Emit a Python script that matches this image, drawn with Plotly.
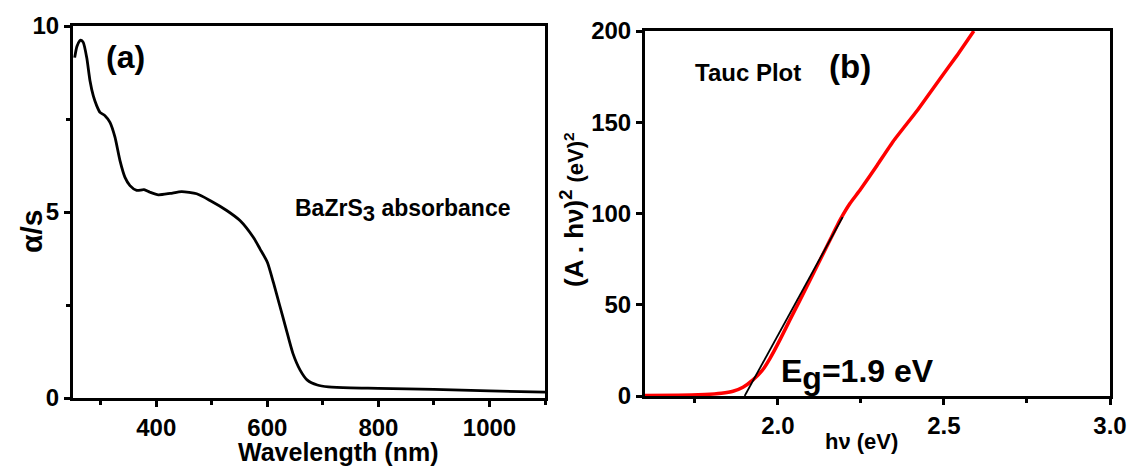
import plotly.graph_objects as go

# Panel (a): absorption spectrum of BaZrS3
wavelength_nm = [253, 257, 262, 264, 268.5, 274.7, 280.6, 286.6, 292.6, 298.6, 307.6, 316.6,
                 325.6, 334.6, 343.6, 352.6, 364.7, 377.9, 388.7, 403.7, 425, 445.7, 472.7,
                 496.7, 526.8, 550.7, 574.7, 586.7, 600, 611, 622, 633, 646, 659, 672, 690,
                 710, 750, 800, 900, 1000, 1100]
alpha_s = [9.15, 9.45, 9.6, 9.62, 9.56, 9.15, 8.53, 8.12, 7.86, 7.68, 7.59, 7.41,
           7.01, 6.38, 5.93, 5.71, 5.58, 5.60, 5.53, 5.46, 5.50, 5.55, 5.49,
           5.31, 5.04, 4.77, 4.32, 4.01, 3.65, 3.1, 2.5, 1.9, 1.2, 0.75, 0.48, 0.35,
           0.30, 0.27, 0.26, 0.23, 0.19, 0.16]

# Panel (b): Tauc plot
photon_ev = [1.60, 1.70, 1.78, 1.83, 1.865, 1.895, 1.925, 1.955, 1.976, 2.007, 2.037, 2.067,
             2.097, 2.127, 2.157, 2.187, 2.217, 2.248, 2.299, 2.347, 2.422, 2.489, 2.539, 2.59]
tauc_y = [0.3, 0.4, 0.8, 1.5, 2.6, 4.8, 8.8, 14.5, 20.5, 31, 42, 52.6,
          63.6, 74.5, 85.5, 96.4, 105.5, 113, 126.5, 139.5, 157, 174, 186.5, 200]

band_gap = 1.9
fit_x = [band_gap, 2.195]
fit_y = [0, 98]

W, H = 1133, 467
FONT = "Liberation Sans, Arial, sans-serif"


def px(x):
    return x / W


def py(y):
    return 1 - y / H


fig = go.Figure()
fig.add_trace(go.Scatter(x=wavelength_nm, y=alpha_s, mode="lines",
                         line=dict(color="black", width=2.8, shape="spline", smoothing=0.6),
                         xaxis="x", yaxis="y"))
fig.add_trace(go.Scatter(x=photon_ev, y=tauc_y, mode="lines",
                         line=dict(color="#ff0000", width=3.5, shape="spline", smoothing=0.4),
                         xaxis="x2", yaxis="y2"))
fig.add_trace(go.Scatter(x=fit_x, y=fit_y, mode="lines",
                         line=dict(color="black", width=1.8),
                         xaxis="x2", yaxis="y2"))

axis_common = dict(showgrid=False, zeroline=False, showline=True, linecolor="black",
                   linewidth=3, mirror=True, ticks="outside", ticklen=6, tickwidth=3,
                   tickcolor="black", automargin=False,
                   tickfont=dict(family=FONT, size=24, color="black", weight="bold"))
minor_common = dict(ticks="outside", ticklen=4, tickwidth=3, tickcolor="black", tick0=0)

fig.update_layout(
    template="none",
    width=W, height=H, autosize=False,
    margin=dict(l=0, r=0, t=0, b=0, pad=0),
    paper_bgcolor="white", plot_bgcolor="white",
    showlegend=False,
    font=dict(family=FONT, color="black"),
    xaxis=dict(domain=[px(73), px(545)], range=[250, 1100], anchor="y",
               tick0=0, dtick=200, minor=dict(dtick=100, **minor_common),
               **axis_common),
    yaxis=dict(domain=[py(398), py(26)], range=[0, 10], anchor="x",
               tick0=0, dtick=5, minor=dict(dtick=2.5, **minor_common),
               **axis_common),
    xaxis2=dict(domain=[px(645), px(1110)], range=[1.6, 3.0], anchor="y2",
                tick0=0, dtick=0.5, tickformat=".1f",
                minor=dict(dtick=0.25, **minor_common),
                **axis_common),
    yaxis2=dict(domain=[py(396), py(31)], range=[0, 200], anchor="x2",
                tick0=0, dtick=50,
                **axis_common),
)


def label(text, x, y, size, angle=0, xanchor="center", yanchor="middle"):
    fig.add_annotation(text=text, x=px(x), y=py(y), xref="paper", yref="paper",
                       showarrow=False, xanchor=xanchor, yanchor=yanchor, textangle=angle,
                       font=dict(family=FONT, size=size, color="black", weight="bold"))


label("(a)", 125, 57, 32)
label("BaZrS<sub><span style='font-size:22px'>3</span></sub> absorbance", 403, 210, 23)
label("Wavelength (nm)", 338, 452, 25)
label("α/s", 31, 232, 30, angle=-90)

label("Tauc Plot", 748, 72, 24)
label("(b)", 850, 67, 33)
label("E<sub><span style='font-size:32px'>g</span></sub>=1.9 eV", 779, 374, 32, xanchor="left")
label("hν (eV)", 861, 441, 22)
label("(A . hν)<sup>2</sup> <span style='font-size:22px'>(eV)<sup>2</sup></span>", 572, 210, 26, angle=-90)

fig.write_html("out.html")
